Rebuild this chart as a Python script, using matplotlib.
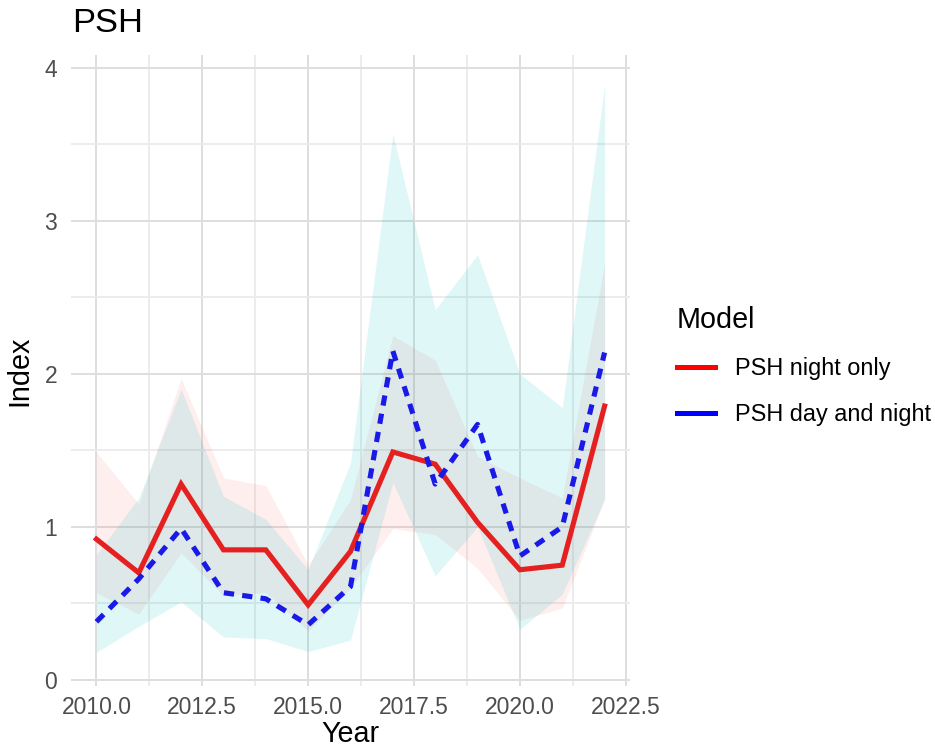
import matplotlib
matplotlib.use("Agg")
import matplotlib.pyplot as plt
from matplotlib.lines import Line2D
from matplotlib.ticker import MultipleLocator

years = [2010, 2011, 2012, 2013, 2014, 2015, 2016, 2017, 2018, 2019, 2020, 2021, 2022]
night = [0.92, 0.70, 1.28, 0.85, 0.85, 0.49, 0.84, 1.49, 1.41, 1.03, 0.72, 0.75, 1.79]
night_upper = [1.49, 1.15, 1.97, 1.32, 1.27, 0.75, 1.18, 2.25, 2.09, 1.46, 1.32, 1.19, 2.72]
night_lower = [0.57, 0.43, 0.83, 0.55, 0.57, 0.32, 0.60, 0.99, 0.95, 0.73, 0.39, 0.47, 1.18]
daynight = [0.38, 0.66, 0.99, 0.57, 0.53, 0.36, 0.61, 2.15, 1.28, 1.67, 0.81, 1.00, 2.14]
daynight_upper = [0.82, 1.19, 1.90, 1.20, 1.05, 0.72, 1.42, 3.57, 2.42, 2.78, 2.00, 1.78, 3.89]
daynight_lower = [0.18, 0.35, 0.51, 0.28, 0.27, 0.185, 0.26, 1.29, 0.68, 1.00, 0.33, 0.56, 1.18]
labels = ["PSH night only", "PSH day and night"]
xticks = [2010.0, 2012.5, 2015.0, 2017.5, 2020.0, 2022.5]
yticks = [0, 1, 2, 3, 4]

plt.rcParams['font.family'] = ['Liberation Sans', 'DejaVu Sans']

fig = plt.figure(figsize=(9.35, 7.49), dpi=100)
ax = fig.add_axes([71/935, 1-686/749, (630-71)/935, (686-55)/749])

ax.fill_between(years, night_lower, night_upper, color='#F8766D', alpha=0.12, linewidth=0, zorder=2)
ax.fill_between(years, daynight_lower, daynight_upper, color='#00BFC4', alpha=0.12, linewidth=0, zorder=3)
ax.plot(years, night, color='#E52020', linewidth=3.7, solid_joinstyle='miter', zorder=4)
ax.plot(years, daynight, color='#1A1AE8', linewidth=3.7, dashes=(2.0, 1.6), zorder=5)

ax.set_xlim(2009.4, 2022.6)
ax.set_ylim(-0.04, 4.085)
ax.set_xticks(xticks)
ax.set_xticklabels([f"{t:.1f}" for t in xticks])
ax.set_yticks(yticks)
ax.set_yticklabels([str(t) for t in yticks])
ax.xaxis.set_minor_locator(MultipleLocator(1.25))
ax.yaxis.set_minor_locator(MultipleLocator(0.5))
ax.grid(which='major', color='#DEDEDE', linewidth=1.4, zorder=0)
ax.grid(which='minor', color='#EBEBEB', linewidth=1.3, zorder=0)
ax.set_axisbelow(True)
for s in ax.spines.values():
    s.set_visible(False)
ax.tick_params(which='both', length=0, labelsize=16.5, labelcolor='#4D4D4D')
ax.tick_params(axis='x', pad=7)
ax.tick_params(axis='y', pad=10)

ax.set_xlabel("Year", fontsize=20.7, color='black', labelpad=1)
ax.set_ylabel("Index", fontsize=20.7, color='black', labelpad=8)
fig.text(72/935, 1-23/749, "PSH", fontsize=24.8, ha='left', va='center')

handles = [Line2D([0], [0], color='red', linewidth=3.6),
           Line2D([0], [0], color='blue', linewidth=3.6)]
leg = fig.legend(handles, labels, title="Model", loc='center left',
                 bbox_to_anchor=(677/935, 1-366/749), frameon=False,
                 fontsize=16.9, title_fontsize=20.7, handlelength=1.6,
                 handletextpad=0.85, labelspacing=1.0, alignment='left',
                 borderaxespad=0, borderpad=0)

fig.savefig("out.png", dpi=100)
